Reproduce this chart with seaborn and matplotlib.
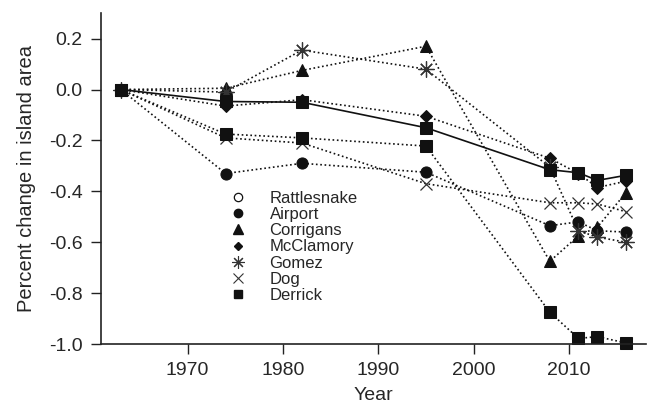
import matplotlib
matplotlib.use("Agg")
import matplotlib.pyplot as plt
from matplotlib.lines import Line2D
import seaborn as sns
import pandas as pd

years = [1963, 1974, 1982, 1995, 2008, 2011, 2013, 2016]
airport = [0, -0.33, -0.29, -0.325, -0.535, -0.52, -0.555, -0.56]
corrigans = [0, 0.005, 0.075, 0.17, -0.675, -0.575, -0.54, -0.405]
mcclamory = [0, -0.065, -0.04, -0.105, -0.27, -0.33, -0.385, -0.36]
gomez = [0, -0.01, 0.155, 0.08, -0.305, -0.555, -0.58, -0.60]
dog = [0, -0.19, -0.21, -0.37, -0.445, -0.445, -0.45, -0.48]
derrick = [0, -0.175, -0.19, -0.222, -0.875, -0.978, -0.971, -0.996]
overall = [0, -0.047, -0.05, -0.15, -0.315, -0.327, -0.357, -0.337]

legend_names = ["Rattlesnake", "Airport", "Corrigans", "McClamory", "Gomez", "Dog", "Derrick"]
y_ticks = [0.2, 0.0, -0.2, -0.4, -0.6, -0.8, -1.0]
x_ticks = [1970, 1980, 1990, 2000, 2010]

sns.set_style("ticks")
plt.rcParams["font.family"] = ["Liberation Sans", "DejaVu Sans"]

fig = plt.figure(figsize=(6.5, 4.12), dpi=100)
ax = fig.add_axes([0.155, 0.165, 0.839, 0.803])

dot = (0, (1.0, 1.6))
INK = "#111111"

styles = [
    (airport, dict(marker="o", markersize=8, linestyle=dot)),
    (corrigans, dict(marker="^", markersize=8.5, linestyle=dot)),
    (mcclamory, dict(marker="D", markersize=5.8, linestyle=dot)),
    (gomez, dict(marker=(8, 2, 0), markersize=11.5, markeredgewidth=0.9, linestyle=dot)),
    (dog, dict(marker="x", markersize=8.5, markeredgewidth=0.9, linestyle=dot)),
    (derrick, dict(marker="s", markersize=8, linestyle=dot)),
    (overall, dict(marker="s", markersize=8, linestyle="-")),
]

for vals, kw in styles:
    df = pd.DataFrame({"year": years, "value": vals})
    mk = kw.pop("marker")
    line_kw = dict(color=INK, linewidth=1.2, markerfacecolor=INK,
                   markeredgecolor=INK, clip_on=False)
    if mk in ("x",) or isinstance(mk, tuple):
        line_kw["markeredgecolor"] = "#333333"
    line_kw.update(kw)
    sns.lineplot(data=df, x="year", y="value", ax=ax, marker=mk, **line_kw)

ax.set_xlim(1960.9, 2018.1)
ax.set_ylim(-1.0, 0.3)
ax.set_xticks(x_ticks)
ax.set_yticks(y_ticks)
ax.set_yticklabels([f"{v:.1f}" for v in y_ticks])
ax.tick_params(axis="both", labelsize=14, length=7, width=1, color="#222222", pad=6)
ax.set_xlabel("Year", fontsize=14, labelpad=6)
ax.set_ylabel("Percent change in island area", fontsize=14.5, labelpad=9)
for side in ("top", "right"):
    ax.spines[side].set_visible(False)
for side in ("left", "bottom"):
    ax.spines[side].set_linewidth(1.2)
    ax.spines[side].set_color("#222222")

handles = [
    Line2D([], [], linestyle="none", marker="o", markersize=6, markerfacecolor="white", markeredgecolor=INK, markeredgewidth=0.9),
    Line2D([], [], linestyle="none", marker="o", markersize=6, color=INK),
    Line2D([], [], linestyle="none", marker="^", markersize=6.5, color=INK),
    Line2D([], [], linestyle="none", marker="D", markersize=4, color=INK),
    Line2D([], [], linestyle="none", marker=(8, 2, 0), markersize=9, markeredgewidth=0.8, color="#333333"),
    Line2D([], [], linestyle="none", marker="x", markersize=7, markeredgewidth=0.8, color="#333333"),
    Line2D([], [], linestyle="none", marker="s", markersize=6, color=INK),
]
leg = ax.legend(handles, legend_names, loc="upper left", bbox_to_anchor=(0.224, 0.483),
                frameon=False, fontsize=12, handlelength=1.0, handletextpad=1.4,
                labelspacing=0.07, borderaxespad=0)

fig.savefig("out.png", dpi=100, facecolor="white")
